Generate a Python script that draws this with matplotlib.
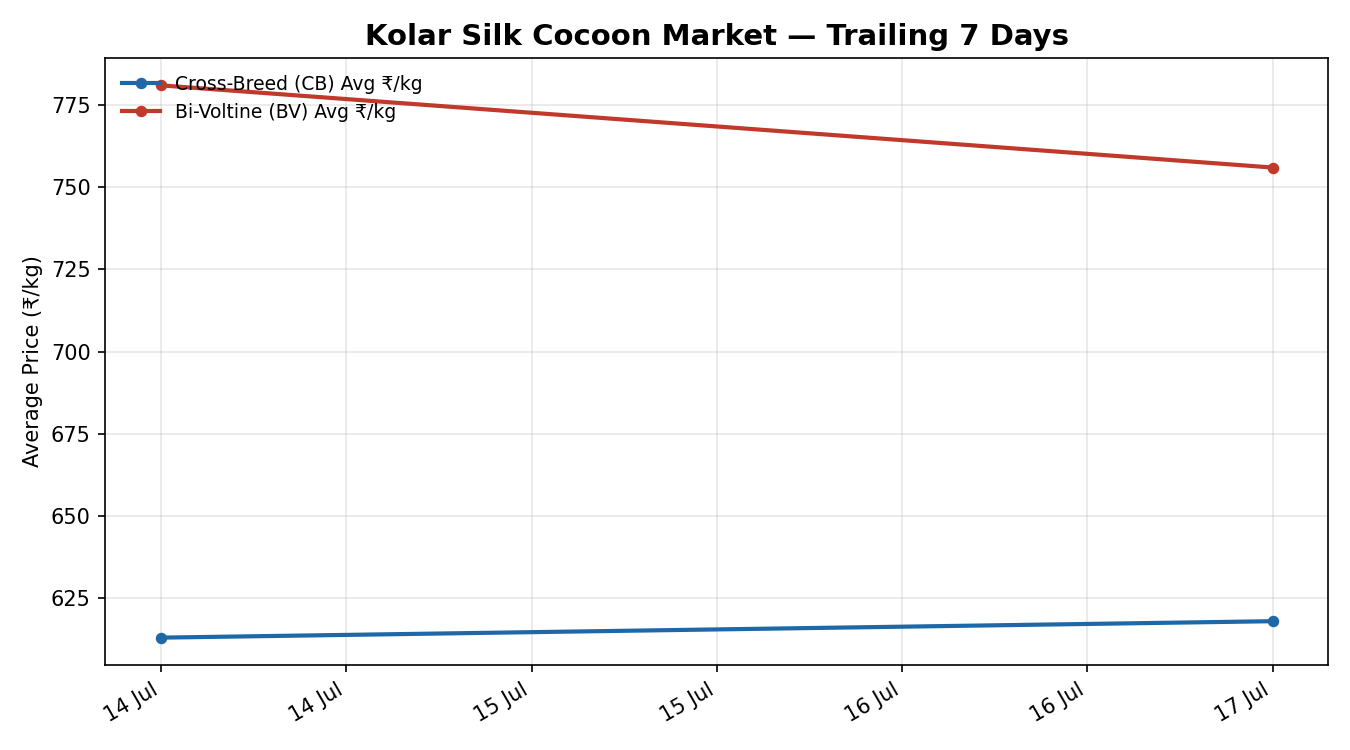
import matplotlib
matplotlib.use('Agg')
import matplotlib.pyplot as plt
import matplotlib.dates as mdates
import pandas as pd

plt.rcParams['font.family'] = ['DejaVu Sans']

# market days (only two reports in the window)
dates = pd.to_datetime(['2024-07-14', '2024-07-17'])
cb_avg = [613, 618]
bv_avg = [781, 756]

fig, ax = plt.subplots(figsize=(9, 5), dpi=150)

ax.plot(dates, cb_avg, color='#1f68a8', linewidth=2, marker='o', markersize=4.5,
        label='Cross-Breed (CB) Avg ₹/kg')
ax.plot(dates, bv_avg, color='#c0392b', linewidth=2, marker='o', markersize=4.5,
        label='Bi-Voltine (BV) Avg ₹/kg')

ax.set_title('Kolar Silk Cocoon Market — Trailing 7 Days', fontsize=14, fontweight='bold')
ax.set_ylabel('Average Price (₹/kg)')
ax.grid(True, alpha=0.3)
ax.xaxis.set_major_formatter(mdates.DateFormatter('%d %b'))
ax.legend(loc='upper left', frameon=False, fontsize=9)

fig.autofmt_xdate()
fig.subplots_adjust(left=0.078, right=0.984, top=0.923, bottom=0.113)
fig.savefig('out.png')
